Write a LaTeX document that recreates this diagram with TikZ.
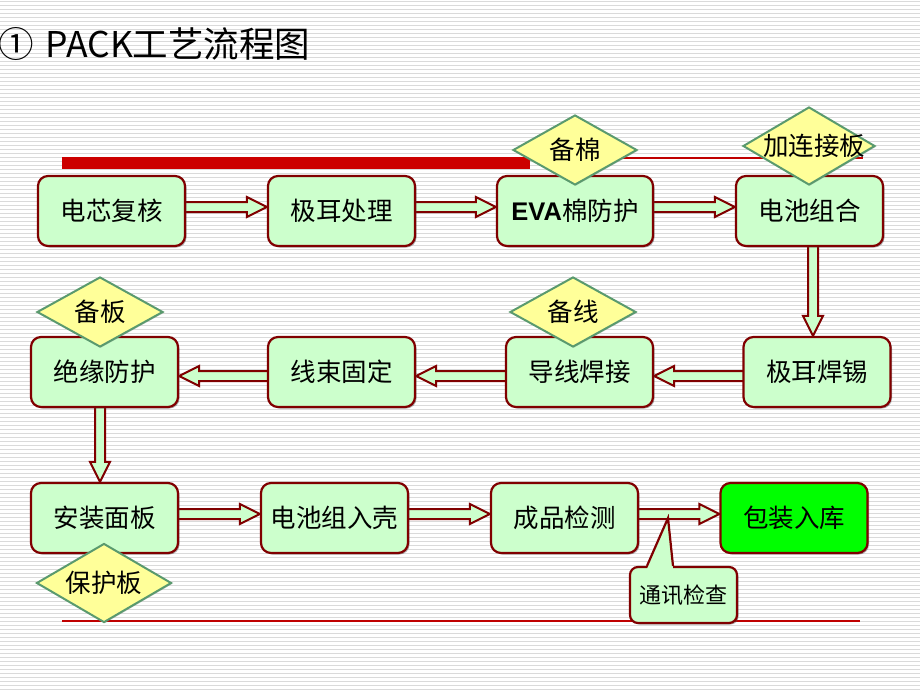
\documentclass[tikz,border=0pt]{standalone}
\usepackage{fontspec}
\setmainfont{Noto Sans CJK SC}
\newfontfamily\arialfont{Liberation Sans}
\usetikzlibrary{shapes.geometric,calc,shadows}
\pgfdeclarelayer{bg}
\pgfsetlayers{bg,main}
\definecolor{boxfill}{HTML}{CCFFCC}
\definecolor{boxline}{HTML}{800000}
\definecolor{diafill}{HTML}{FFFF99}
\definecolor{dialine}{HTML}{5A9A6E}
\definecolor{stripecol}{HTML}{DADADA}
\definecolor{redbar}{HTML}{CC0000}
\definecolor{thinred}{HTML}{C00000}
\definecolor{okgreen}{HTML}{00FF00}
\tikzset{
  box/.style={rectangle, rounded corners=10pt, draw=boxline, fill=boxfill,
    line width=2.2pt, minimum width=147pt, minimum height=70pt, inner sep=0pt,
    font=\fontsize{25.5}{28}\selectfont,
    drop shadow={shadow xshift=1.5pt, shadow yshift=-1.5pt, opacity=.45, fill=black!70}},
  dia/.style={diamond, draw=dialine, fill=diafill, line width=2pt, inner sep=0pt,
    label distance=0pt,
    drop shadow={shadow xshift=1pt, shadow yshift=-1pt, opacity=.3, fill=black!60}},
  diatext/.style={font=\fontsize{25.5}{28}\selectfont},
  flowarrow/.style={fill=boxfill, draw=boxline, line width=2pt, line join=miter},
  stripe/.style={draw=stripecol, line width=1.5pt},
  callout/.style={rectangle, rounded corners=8pt, draw=boxline, fill=boxfill,
    line width=2.2pt, minimum width=107pt, minimum height=56pt, inner sep=0pt,
    font=\fontsize{22}{25}\selectfont,
    drop shadow={shadow xshift=1.5pt, shadow yshift=-1.5pt, opacity=.45, fill=black!70}},
}
\newcommand\blockarrow[2]{%
  \coordinate (ba-s) at (#1);
  \coordinate (ba-e) at (#2);
  \draw[flowarrow]
    ($(ba-s)!5pt!-90:(ba-e)$)
    -- ($(ba-e)!20pt!(ba-s)!5pt!-90:(ba-e)$)
    -- ($(ba-e)!20pt!(ba-s)!10pt!-90:(ba-e)$)
    -- (ba-e)
    -- ($(ba-e)!20pt!(ba-s)!10pt!90:(ba-e)$)
    -- ($(ba-e)!20pt!(ba-s)!5pt!90:(ba-e)$)
    -- ($(ba-s)!5pt!90:(ba-e)$)
    -- cycle;
}
\begin{document}
\begin{tikzpicture}[x=1pt,y=-1pt]
\useasboundingbox (0,0) rectangle (920,690);
\begin{pgfonlayer}{bg}
  \fill[white] (0,0) rectangle (920,690);
  \foreach \k in {0,...,172} {
    \draw[stripe] (0,{4*\k+1.5}) -- (920,{4*\k+1.5});
  }
  \fill[redbar] (62,157) rectangle (530,169);
  \draw[thinred, line width=1.3pt] (530,158) -- (863,158);
  \draw[thinred, line width=1.3pt] (62,621) -- (860,621);
\end{pgfonlayer}

% title
\node[anchor=west, font=\fontsize{35.5}{40}\selectfont, inner sep=0pt] (title) at (-2,44) {①\kern12pt PACK工艺流程图};

% boxes
\node[box] (n1) at (111.5,211) {电芯复核};
\node[box] (n2) at (341.5,211) {极耳处理};
\node[box, minimum width=156pt] (n3) at (575,211) {{\arialfont\bfseries EVA}棉防护};
\node[box] (n4) at (809.5,211) {电池组合};
\node[box] (n5) at (817,372) {极耳焊锡};
\node[box] (n6) at (579.5,372) {导线焊接};
\node[box] (n7) at (341.5,372) {线束固定};
\node[box] (n8) at (104.5,372) {绝缘防护};
\node[box] (n9) at (104.5,518) {安装面板};
\node[box] (n10) at (334.5,518) {电池组入壳};
\node[box] (n11) at (564.5,518) {成品检测};
\node[box, fill=okgreen] (n12) at (794,518) {包装入库};

% diamonds
\node[dia, minimum width=124pt, minimum height=70pt, label={[diatext]center:备棉}] (d1) at (575,150) {};
\node[dia, minimum width=132pt, minimum height=78pt, label={[diatext, xshift=5pt]center:加连接板}] (d2) at (809,146) {};
\node[dia, minimum width=126pt, minimum height=70pt, label={[diatext]center:备线}] (d3) at (573,312) {};
\node[dia, minimum width=126pt, minimum height=70pt, label={[diatext]center:备板}] (d4) at (100,312) {};
\node[dia, minimum width=135pt, minimum height=79pt, label={[diatext]center:保护板}] (d5) at (104,583) {};

% arrows
\begin{pgfonlayer}{bg}
  \blockarrow{$(n1.east)+(-3,-4)$}{$(n2.west)+(0,-4)$}
  \blockarrow{$(n2.east)+(-3,-4)$}{$(n3.west)+(0,-4)$}
  \blockarrow{$(n3.east)+(-3,-4)$}{$(n4.west)+(0,-4)$}
  \blockarrow{$(n4.south)+(3.5,-3)$}{$(n5.north)+(-4,0)$}
  \blockarrow{$(n5.west)+(3,4)$}{$(n6.east)+(0,4)$}
  \blockarrow{$(n6.west)+(3,4)$}{$(n7.east)+(0,4)$}
  \blockarrow{$(n7.west)+(3,4)$}{$(n8.east)+(0,4)$}
  \blockarrow{$(n8.south)+(-4.5,-3)$}{$(n9.north)+(-4.5,0)$}
  \blockarrow{$(n9.east)+(-3,-4)$}{$(n10.west)+(0,-4)$}
  \blockarrow{$(n10.east)+(-3,-4)$}{$(n11.west)+(0,-4)$}
  \blockarrow{$(n11.east)+(-3,-4)$}{$(n12.west)+(0,-4)$}
\end{pgfonlayer}

% callout
\node[callout] (chk) at (683.5,595) {通讯检查};
\coordinate (tip) at (668,518);
\fill[boxfill] ($(chk.north)+(-36.5,3)$) -- (tip) -- ($(chk.north)+(-10.5,3)$) -- cycle;
\draw[boxline, line width=2.2pt, line join=miter] ($(chk.north)+(-36.5,0)$) -- (tip) -- ($(chk.north)+(-10.5,0)$);
\end{tikzpicture}
\end{document}
